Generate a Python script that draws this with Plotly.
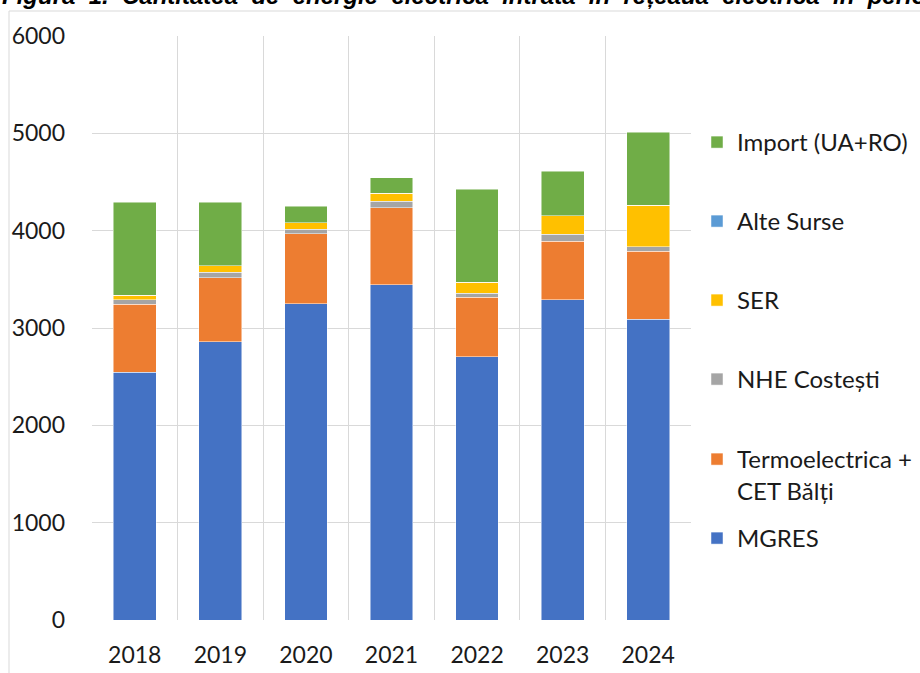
import plotly.graph_objects as go

years = ['2018', '2019', '2020', '2021', '2022', '2023', '2024']
mgres = [2547, 2857, 3250, 3444, 2707, 3291, 3089]
termo = [696, 659, 716, 791, 610, 599, 699]
nhe = [48, 57, 47, 69, 41, 72, 45]
ser = [44, 69, 69, 78, 110, 192, 430]
alte = [0, 0, 0, 0, 0, 0, 0]
imp = [955, 648, 167, 161, 955, 457, 747]

series = [
    ('MGRES', mgres, '#4472C4'),
    ('Termoelectrica +<br>CET Bălți', termo, '#ED7D31'),
    ('NHE Costești', nhe, '#A5A5A5'),
    ('SER', ser, '#FFC000'),
    ('Alte Surse', alte, '#5B9BD5'),
    ('Import (UA+RO)', imp, '#70AD47'),
]

# pixel y of each legend entry (first text line)
legend_py = [539, 460, 380, 301, 222, 143]

FONT = 'Lato'
W, H = 920, 673
L, R, T, B = 92, 229, 36, 53
ph = H - T - B
pw = W - L - R


def px_x(p):
    return (p - L) / pw


def px_y(p):
    return (H - B - p) / ph


fig = go.Figure()
legends = {}
for i, (name, vals, col) in enumerate(series):
    key = 'legend' if i == 0 else 'legend%d' % (i + 1)
    fig.add_trace(go.Bar(
        x=years, y=vals, name=name, legend=key,
        marker=dict(color=col, line=dict(color='rgba(255,255,255,0.6)', width=0.8)),
    ))
    legends[key] = dict(
        x=px_x(697), xanchor='left',
        y=px_y(legend_py[i] - 23), yanchor='top',
        valign='top',
        font=dict(family=FONT, size=24, color='#1a1a1a'),
        bgcolor='rgba(0,0,0,0)', itemwidth=30, tracegroupgap=0,
    )

fig.update_layout(
    barmode='stack',
    bargap=0.5,
    width=W, height=H,
    margin=dict(l=L, r=R, t=T, b=B, pad=0, autoexpand=False),
    paper_bgcolor='white', plot_bgcolor='white',
    font=dict(family=FONT, size=23, color='#1a1a1a'),
    showlegend=True,
    **legends,
)

fig.update_xaxes(
    type='category', tickson='boundaries', showgrid=True,
    gridcolor='#D9D9D9', gridwidth=1, ticks='', showline=False,
    ticklabelstandoff=19, zeroline=False, automargin=False,
)
fig.update_yaxes(
    range=[0, 6000], dtick=1000, showgrid=True, gridcolor='#D9D9D9',
    gridwidth=1, ticks='', showline=False, zeroline=False,
    ticklabelstandoff=26, automargin=False,
)

# outer chart frame (cropped by the screenshot)
fig.add_shape(type='rect', xref='paper', yref='paper',
              x0=px_x(9), x1=px_x(940), y0=px_y(700), y1=px_y(11),
              line=dict(color='#D9D9D9', width=1), layer='below')

# document caption above the chart, mostly cut off at the top edge (as in the source)
title = ('Figura\u00a0 1.\u00a0 Cantitatea\u00a0 de\u00a0 energie\u00a0 electrică\u00a0 intrată\u00a0 în'
         '\u00a0 rețeaua\u00a0 electrică\u00a0 în\u00a0 perioada\u00a0 2018-2024')
fig.add_annotation(
    text='<b><i>' + title + '</i></b>', xref='paper', yref='paper',
    x=px_x(0), xanchor='left', y=px_y(-4), yanchor='middle',
    showarrow=False, font=dict(family='Liberation Sans', size=24, color='#000'),
)

fig.write_html('out.html', config={'displayModeBar': False},
               post_script="document.body.style.margin='0';")
